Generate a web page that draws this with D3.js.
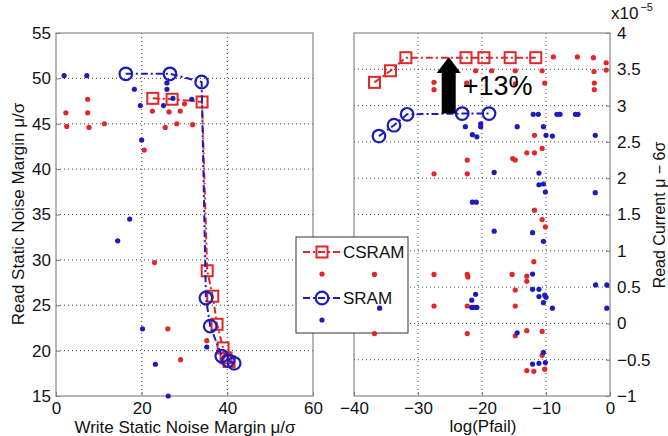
<!DOCTYPE html>
<html>
<head>
<meta charset="utf-8">
<script src="https://cdn.jsdelivr.net/npm/d3@7"></script>
<style>
  body { margin: 0; background: #fff; }
  svg { font-family: "Liberation Sans", Arial, sans-serif; }
</style>
</head>
<body>
<script>
// left panel: [write SNM, read SNM]
const csramLeft = [[22.6,47.8],[27.1,47.7],[34.1,47.4],[35.3,28.8],[36.6,26.0],[37.6,22.9],[39.0,20.3],[39.7,19.2],[40.4,18.8]]
const sramLeft = [[16.3,50.5],[26.6,50.5],[34.0,49.6],[35.0,25.8],[36.0,22.7],[38.7,19.4],[40.2,18.9],[41.6,18.6]]
const csramDotsLeft = [[2.3,46.2],[2.5,44.7],[7.4,47.7],[7.4,46.2],[7.7,44.6],[11.3,45.0],[20.6,42.1],[22.5,46.4],
  [25.5,44.6],[26.4,46.3],[28.2,45.0],[29.0,46.4],[30.0,47.2],[31.9,44.9],[23.0,29.7],[26.1,22.4],[29.1,19.0],[35.2,21.1]]
const sramDotsLeft = [[1.9,50.3],[7.2,50.3],[18.3,48.8],[19.7,47.0],[20.0,43.2],[25.1,47.0],[25.9,48.8],[25.9,49.5],
  [27.3,47.8],[31.7,47.7],[17.2,34.5],[14.4,32.1],[20.2,22.4],[23.2,18.5],[26.2,15.0],[35.2,20.4]]

// right panel: [log(Pfail), read current x1e-5]
const csramRight = [[-36.8,3.32],[-34.3,3.48],[-31.9,3.66],[-22.5,3.66],[-19.7,3.66],[-15.6,3.66],[-11.6,3.66]]
const sramRight = [[-36.1,2.58],[-33.75,2.73],[-31.7,2.88],[-23.1,2.89],[-18.9,2.89]]
const csramDotsRight = [
  [-8.85,3.67],[-5.1,3.67],[-2.6,3.66],[-0.6,3.59],[-0.6,3.49],[-2.5,3.47],[-2.45,3.31],[-2.45,3.22],
  [-27.5,3.32],[-27.5,3.22],[-22.4,3.31],[-21.0,3.48],[-18.5,3.48],[-14.8,3.48],[-14.8,3.30],[-10.6,3.48],[-10.2,3.31],
  [-11.8,2.59],[-10.6,2.41],[-13.0,2.35],[-11.8,2.35],[-15.2,2.27],[-14.8,2.25],[-22.3,2.25],[-27.5,2.06],[-22.3,2.06],
  [-11.8,1.56],[-10.6,1.43],[-10.1,1.33],[-11.9,0.85],
  [-36.8,0.675],[-27.5,0.675],[-22.3,0.675],[-22.2,0.64],[-15.3,0.675],[-13.0,0.65],[-13.0,0.58],[-14.8,0.46],
  [-27.5,0.24],[-22.3,0.24],[-14.8,0.24],
  [-36.8,-0.14],[-22.3,-0.14],[-14.8,-0.17],[-13.0,-0.10],[-10.6,-0.11],[-10.6,-0.44],[-13.0,-0.65],[-11.9,-0.66],[-10.2,-0.63]]
const sramDotsRight = [
  [-12.0,2.88],[-11.2,2.88],[-8.3,2.88],[-7.8,2.88],[-5.4,2.88],[-5.0,2.88],
  [-22.6,2.71],[-20.2,2.71],[-20.2,2.75],[-21.5,2.60],[-20.8,2.57],[-14.5,2.71],[-10.4,2.71],[-10.0,2.59],[-9.0,2.58],[-2.3,2.59],
  [-18.1,2.08],[-11.1,2.07],[-11.1,1.91],[-10.4,1.92],[-10.1,1.81],[-2.3,1.80],[-21.5,1.67],[-20.9,1.67],
  [-18.1,1.27],[-12.1,1.25],[-10.4,1.13],[-12.1,0.68],[-2.25,0.53],[-0.5,0.53],[-12.1,0.47],[-11.1,0.47],
  [-11.1,0.37],[-10.2,0.39],[-10.0,0.36],[-10.4,0.285],[-9.0,0.21],[-0.5,0.21],[-36.0,0.21],
  [-21.6,0.32],[-21.0,0.40],[-21.6,0.22],[-21.25,0.22],[-20.8,0.22],
  [-14.5,-0.13],[-10.4,-0.40],[-12.1,-0.56],[-11.1,-0.55],[-10.1,-0.54]]

// arrow annotation: x, from, to (data units of right panel)
const arrowX = -25.2, arrowFrom = 2.89, arrowTo = 3.67, arrowHeadBase = 3.45
const gainLabel = "+13%"

const leftXTicks = [0, 20, 40, 60]
const leftYTicks = [15, 20, 25, 30, 35, 40, 45, 50, 55]
const rightXTicks = [-40, -30, -20, -10, 0]
const rightYTicks = [-1, -0.5, 0, 0.5, 1, 1.5, 2, 2.5, 3, 3.5, 4]
const legendNames = ["CSRAM", "", "SRAM", ""]

const RED = "#e2262a", BLUE = "#1c1cbc"
const plotTop = 33, plotBottom = 396

const svg = d3.select("body").append("svg").attr("width", 668).attr("height", 436)

const xL = d3.scaleLinear().domain([0, 60]).range([56, 313])
const yL = d3.scaleLinear().domain([15, 55]).range([plotBottom, plotTop])
const xR = d3.scaleLinear().domain([-40, 0]).range([354, 610])
const yR = d3.scaleLinear().domain([-1, 4]).range([plotBottom, plotTop])

const fmt = d3.format("~g")

function grid(g, x, y, xt, yt) {
  g.selectAll(".vg").data(xt.slice(1, -1)).enter().append("line")
    .attr("x1", d => x(d)).attr("x2", d => x(d)).attr("y1", plotTop).attr("y2", plotBottom)
  g.selectAll(".hg").data(yt.slice(1, -1)).enter().append("line")
    .attr("y1", d => y(d)).attr("y2", d => y(d)).attr("x1", x.range()[0]).attr("x2", x.range()[1])
  g.selectAll("line").attr("stroke", "#444").attr("stroke-dasharray", "1,3").attr("stroke-width", 1)
}

function axes(x, y, xt, yt, yRight) {
  const xa = svg.append("g").attr("transform", `translate(0,${plotBottom})`)
    .call(d3.axisBottom(x).tickValues(xt).tickFormat(fmt).tickSize(-4).tickPadding(6))
  const ya = yRight
    ? svg.append("g").attr("transform", `translate(${x.range()[1]},0)`)
        .call(d3.axisRight(y).tickValues(yt).tickFormat(fmt).tickSize(-4).tickPadding(7))
    : svg.append("g").attr("transform", `translate(${x.range()[0]},0)`)
        .call(d3.axisLeft(y).tickValues(yt).tickFormat(fmt).tickSize(-4).tickPadding(5))
  ;[xa, ya].forEach(a => {
    a.select(".domain").remove()
    a.selectAll("line").attr("stroke", "#777")
    a.selectAll("text").attr("font-size", 17).attr("fill", "#111")
  })
  svg.append("rect").attr("x", x.range()[0]).attr("y", plotTop)
    .attr("width", x.range()[1] - x.range()[0]).attr("height", plotBottom - plotTop)
    .attr("fill", "none").attr("stroke", "#888").attr("stroke-width", 1.2)
}

function series(g, x, y, pts, color, marker) {
  const line = d3.line().x(d => x(d[0])).y(d => y(d[1]))
  g.append("path").attr("d", line(pts)).attr("fill", "none")
    .attr("stroke", color).attr("stroke-width", 2).attr("stroke-dasharray", "7,3,2,3")
  drawMarkers(g, pts.map(d => [x(d[0]), y(d[1])]), color, marker)
}

function drawMarkers(g, xy, color, marker) {
  if (marker === "square") {
    g.selectAll(null).data(xy).enter().append("rect")
      .attr("x", d => d[0] - 5.5).attr("y", d => d[1] - 5.5).attr("width", 11).attr("height", 11)
      .attr("fill", "none").attr("stroke", color).attr("stroke-width", 2)
  } else {
    g.selectAll(null).data(xy).enter().append("circle")
      .attr("cx", d => d[0]).attr("cy", d => d[1]).attr("r", 6.3)
      .attr("fill", "none").attr("stroke", color).attr("stroke-width", 2.2)
  }
}

function dots(g, x, y, pts, color) {
  g.selectAll(null).data(pts).enter().append("circle")
    .attr("cx", d => x(d[0])).attr("cy", d => y(d[1])).attr("r", 2.6).attr("fill", color)
}

// left panel
grid(svg.append("g"), xL, yL, leftXTicks, leftYTicks)
axes(xL, yL, leftXTicks, leftYTicks, false)
const gl = svg.append("g")
series(gl, xL, yL, csramLeft, RED, "square")
dots(gl, xL, yL, csramDotsLeft, RED)
series(gl, xL, yL, sramLeft, BLUE, "circle")
dots(gl, xL, yL, sramDotsLeft, BLUE)

// right panel
grid(svg.append("g"), xR, yR, rightXTicks, rightYTicks)
axes(xR, yR, rightXTicks, rightYTicks, true)

// legend (data dots of right panel stay on top of it)
const lg = svg.append("g")
lg.append("rect").attr("x", 296).attr("y", 237).attr("width", 112).attr("height", 96)
  .attr("fill", "#fff").attr("stroke", "#333").attr("stroke-width", 1)
const legendY = [252, 274, 298, 320]
const legendStyle = [[RED, "square", true], [RED, "dot", false], [BLUE, "circle", true], [BLUE, "dot", false]]
legendNames.forEach((name, i) => {
  const [color, kind, isLine] = legendStyle[i]
  const ly = legendY[i]
  if (isLine) {
    lg.append("line").attr("x1", 303).attr("x2", 341).attr("y1", ly).attr("y2", ly)
      .attr("stroke", color).attr("stroke-width", 2).attr("stroke-dasharray", "7,3,2,3")
    drawMarkers(lg, [[322, ly]], color, kind)
  } else {
    lg.append("circle").attr("cx", 322).attr("cy", ly).attr("r", 2.6).attr("fill", color)
  }
  if (name) lg.append("text").attr("x", 343).attr("y", ly + 6).attr("font-size", 17).attr("fill", "#111").text(name)
})

const gr = svg.append("g")
series(gr, xR, yR, csramRight, RED, "square")
dots(gr, xR, yR, csramDotsRight, RED)
series(gr, xR, yR, sramRight, BLUE, "circle")
dots(gr, xR, yR, sramDotsRight, BLUE)

// arrow
const ax = xR(arrowX), shaft = 7, head = 12
gr.append("path").attr("fill", "#000")
  .attr("d", `M${ax - shaft},${yR(arrowFrom)} L${ax - shaft},${yR(arrowHeadBase)} L${ax - head},${yR(arrowHeadBase)}
    L${ax},${yR(arrowTo)} L${ax + head},${yR(arrowHeadBase)} L${ax + shaft},${yR(arrowHeadBase)} L${ax + shaft},${yR(arrowFrom)} Z`)
gr.append("text").attr("x", xR(-23.0)).attr("y", yR(3.14)).attr("font-size", 27).attr("fill", "#000").text(gainLabel)

// exponent
const ex = svg.append("text").attr("x", 611).attr("y", 19).attr("font-size", 17).attr("fill", "#111")
ex.append("tspan").text("x10")
ex.append("tspan").attr("font-size", 11).attr("dy", -8).attr("dx", 2).text("\u22125")

// axis labels
svg.append("text").attr("x", 185).attr("y", 433).attr("text-anchor", "middle").attr("font-size", 17)
  .attr("fill", "#111").text("Write Static Noise Margin \u03bc/\u03c3")
svg.append("text").attr("x", 483).attr("y", 432).attr("text-anchor", "middle").attr("font-size", 17)
  .attr("fill", "#111").text("log(Pfail)")
svg.append("text").attr("transform", "translate(24,214) rotate(-90)").attr("text-anchor", "middle")
  .attr("font-size", 17).attr("fill", "#111").text("Read Static Noise Margin \u03bc/\u03c3")
svg.append("text").attr("transform", "translate(665,215) rotate(-90)").attr("text-anchor", "middle")
  .attr("font-size", 16).attr("fill", "#111").text("Read Current \u03bc \u2212 6\u03c3")
</script>
</body>
</html>
